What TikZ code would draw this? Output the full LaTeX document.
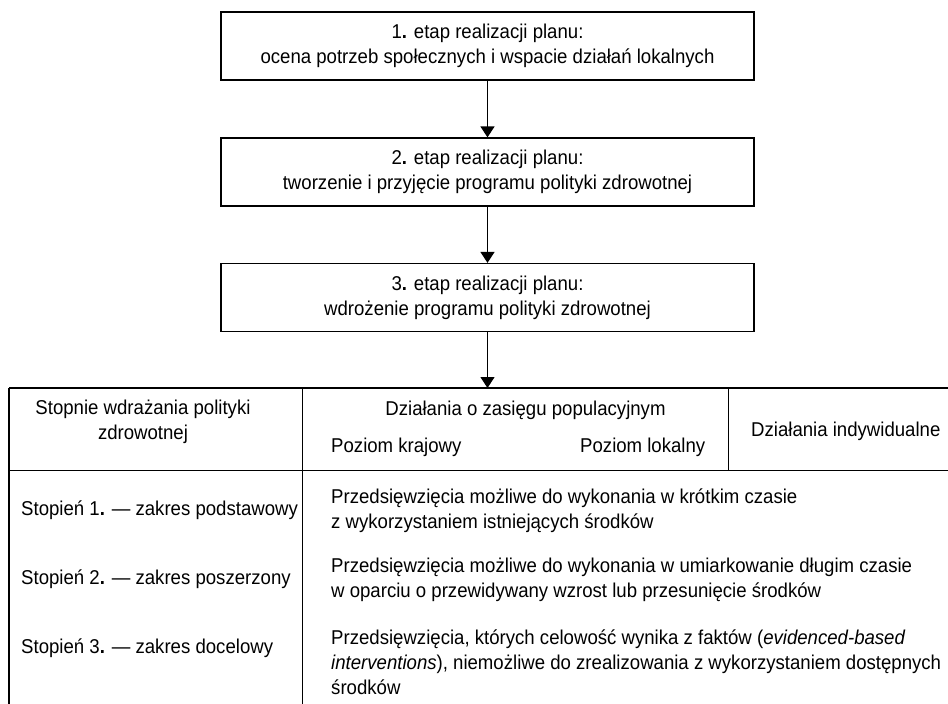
\documentclass[tikz,border=0pt]{standalone}
\usepackage{fontspec}
\setmainfont[FakeStretch=0.93]{Liberation Sans}
\usetikzlibrary{arrows.meta}
\tikzset{
  stagebox/.style={draw=black, line width=1.2pt, minimum width=533pt, minimum height=68pt,
    align=center, inner sep=0pt, font=\fontsize{20}{25}\selectfont},
  flowarrow/.style={line width=1.2pt, -{Triangle[width=14pt,length=11pt]}},
  tabline/.style={line width=1.2pt},
  celltext/.style={inner sep=0pt, font=\fontsize{20}{25}\selectfont},
}
\begin{document}
\begin{tikzpicture}[x=1pt,y=-1pt]
\useasboundingbox (0,0) rectangle (948,704);

\node[stagebox] (s1) at (487.5,46) {1\textbf{.} etap realizacji planu:\\ocena potrzeb społecznych i wspacie działań lokalnych};
\node[stagebox] (s2) at (487.5,172) {2\textbf{.} etap realizacji planu:\\tworzenie i przyjęcie programu polityki zdrowotnej};
\node[stagebox] (s3) at (487.5,297.5) {3\textbf{.} etap realizacji planu:\\wdrożenie programu polityki zdrowotnej};

\coordinate (tabtop) at (487.5,388);
\draw[flowarrow] (s1.south) -- (s2.north);
\draw[flowarrow] (s2.south) -- (s3.north);
\draw[flowarrow] (s3.south) -- (tabtop);

% table grid
\coordinate (tl) at (9,388);
\coordinate (tr) at (948,388);
\coordinate (hl) at (9,470.7);
\coordinate (hr) at (948,470.7);
\coordinate (bl) at (9,704);
\coordinate (d1t) at (302.5,388);
\coordinate (d1b) at (302.5,704);
\coordinate (d2t) at (728.5,388);
\coordinate (d2b) at (728.5,470.7);
\draw[tabline] (tl) -- (tr);
\draw[tabline] (hl) -- (hr);
\draw[tabline] (tl) -- (bl);
\draw[tabline] (d1t) -- (d1b);
\draw[tabline] (d2t) -- (d2b);

% header
\node[celltext, align=center] (h1) at (143,421.5) {Stopnie wdrażania polityki\\zdrowotnej};
\node[celltext] (h2) at (525.5,410) {Działania o zasięgu populacyjnym};
\node[celltext, anchor=west] (h2a) at (331,447) {Poziom krajowy};
\node[celltext, anchor=west] (h2b) at (580,447) {Poziom lokalny};
\node[celltext, anchor=west] (h3) at (751,431) {Działania indywidualne};

% rows
\node[celltext, anchor=west] (r1) at (21,510) {Stopień 1\textbf{.} — zakres podstawowy};
\node[celltext, anchor=west] (r2) at (21,579) {Stopień 2\textbf{.} — zakres poszerzony};
\node[celltext, anchor=west] (r3) at (21,648) {Stopień 3\textbf{.} — zakres docelowy};

\node[celltext, anchor=west, align=left] (t1) at (331,511) {Przedsięwzięcia możliwe do wykonania w krótkim czasie\\z wykorzystaniem istniejących środków};
\node[celltext, anchor=west, align=left] (t2) at (331,579.5) {Przedsięwzięcia możliwe do wykonania w umiarkowanie długim czasie\\w oparciu o przewidywany wzrost lub przesunięcie środków};
\node[celltext, anchor=west, align=left] (t3) at (331,662) {Przedsięwzięcia, których celowość wynika z faktów (\textit{evidenced-based}\\\textit{interventions}), niemożliwe do zrealizowania z wykorzystaniem dostępnych\\środków};
\end{tikzpicture}
\end{document}
